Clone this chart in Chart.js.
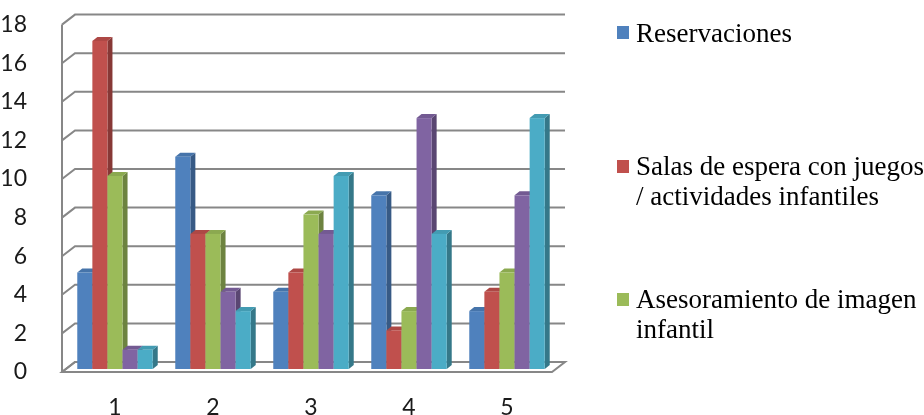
<!DOCTYPE html>
<html>
<head>
<meta charset="utf-8">
<script src="https://cdn.jsdelivr.net/npm/chart.js@4/dist/chart.umd.min.js"></script>
<style>
  html, body { margin: 0; padding: 0; background: #fff; }
  #wrap { position: relative; width: 924px; height: 415px; overflow: hidden; }
  #wrap canvas { position: absolute; left: 0; top: 0; }
  .leg { position: absolute; left: 636px; font-family: "Liberation Serif", "Times New Roman", serif;
         font-size: 27px; line-height: 30px; color: #000; white-space: nowrap; }
  .sq { position: absolute; left: 617px; width: 12px; height: 13px; }
</style>
</head>
<body>
<div id="wrap">
  <canvas id="c" width="924" height="415"></canvas>
  <div class="sq" style="top:26px;background:#4F81BD"></div>
  <div class="leg" style="top:18px">Reservaciones</div>
  <div class="sq" style="top:160px;background:#C0504D"></div>
  <div class="leg" style="top:151px">Salas de espera con juegos<br>/ actividades infantiles</div>
  <div class="sq" style="top:293px;background:#9BBB59"></div>
  <div class="leg" style="top:284px">Asesoramiento de imagen<br>infantil</div>
</div>
<script>
const categories = ['1', '2', '3', '4', '5'];
const reservaciones = [5, 11, 4, 9, 3];
const salasEspera = [17, 7, 5, 2, 4];
const asesoramiento = [10, 7, 8, 3, 5];
const serie4 = [1, 4, 7, 13, 9];
const serie5 = [1, 3, 10, 7, 13];
const yTicks = [0, 2, 4, 6, 8, 10, 12, 14, 16, 18];

const seriesNames = ['Reservaciones', 'Salas de espera con juegos / actividades infantiles', 'Asesoramiento de imagen infantil', 'Serie 4', 'Serie 5'];
const seriesValues = [reservaciones, salasEspera, asesoramiento, serie4, serie5];
const frontColors = ['#4F81BD', '#C0504D', '#9BBB59', '#8064A2', '#4BACC6'];
const topColors   = ['#4674AA', '#AD4845', '#8BA950', '#735A92', '#439BB2'];
const sideColors  = ['#375A85', '#873836', '#6D8340', '#5A4672', '#357889'];

const DEPTH = { dx: 5, dy: 4 };
const FRONT = { dx: -4, dy: 3 };
const BACK = { dx: 9, dy: -7 };

const wallsPlugin = {
  id: 'walls',
  beforeDatasetsDraw(chart) {
    const { ctx, chartArea: a, scales: { y } } = chart;
    const y0 = y.getPixelForValue(0);
    const yTop = y.getPixelForValue(yTicks[yTicks.length - 1]);
    ctx.save();
    ctx.lineWidth = 2;
    ctx.strokeStyle = '#878787';
    ctx.fillStyle = '#ffffff';
    ctx.beginPath();
    ctx.moveTo(a.left + FRONT.dx, y0 + FRONT.dy);
    ctx.lineTo(a.right + FRONT.dx, y0 + FRONT.dy);
    ctx.lineTo(a.right + BACK.dx, y0 + BACK.dy);
    ctx.lineTo(a.left + BACK.dx, y0 + BACK.dy);
    ctx.closePath();
    ctx.fill();
    ctx.stroke();
    ctx.beginPath();
    ctx.moveTo(a.left + FRONT.dx, yTop + FRONT.dy);
    ctx.lineTo(a.left + FRONT.dx, y0 + FRONT.dy);
    ctx.stroke();
    yTicks.forEach(v => {
      const py = y.getPixelForValue(v);
      ctx.beginPath();
      ctx.moveTo(a.left + FRONT.dx, py + FRONT.dy);
      ctx.lineTo(a.left + BACK.dx, py + BACK.dy);
      ctx.lineTo(a.right + BACK.dx, py + BACK.dy);
      ctx.stroke();
    });
    ctx.restore();
  },
  beforeDatasetDraw() { return false; },
  afterDatasetsDraw(chart) {
    const ctx = chart.ctx;
    ctx.save();
    chart.data.datasets.forEach((ds, i) => {
      const meta = chart.getDatasetMeta(i);
      meta.data.forEach(bar => {
        const p = bar.getProps(['x', 'y', 'base', 'width'], true);
        const l = p.x - p.width / 2, r = p.x + p.width / 2;
        const t = p.y, b = p.base;
        ctx.fillStyle = sideColors[i];
        ctx.beginPath();
        ctx.moveTo(r, t); ctx.lineTo(r + DEPTH.dx, t - DEPTH.dy);
        ctx.lineTo(r + DEPTH.dx, b - DEPTH.dy); ctx.lineTo(r, b);
        ctx.closePath(); ctx.fill();
        ctx.fillStyle = topColors[i];
        ctx.beginPath();
        ctx.moveTo(l, t); ctx.lineTo(l + DEPTH.dx, t - DEPTH.dy);
        ctx.lineTo(r + DEPTH.dx, t - DEPTH.dy); ctx.lineTo(r, t);
        ctx.closePath(); ctx.fill();
        ctx.fillStyle = frontColors[i];
        ctx.fillRect(l, t, r - l, b - t);
      });
    });
    ctx.restore();
  }
};

Chart.defaults.font.family = 'Lato';
Chart.defaults.font.size = 23;
Chart.defaults.color = '#1a1a1a';

new Chart(document.getElementById('c'), {
  type: 'bar',
  data: {
    labels: categories,
    datasets: seriesValues.map((vals, i) => ({
      label: seriesNames[i],
      data: vals,
      backgroundColor: frontColors[i],
      categoryPercentage: 0.77,
      barPercentage: 1.0
    }))
  },
  options: {
    responsive: false,
    animation: false,
    events: [],
    layout: { padding: { top: 21.6, right: 368, left: 0, bottom: 0 } },
    plugins: { legend: { display: false }, tooltip: { enabled: false } },
    scales: {
      x: {
        grid: { display: false },
        border: { display: false },
        ticks: { padding: 17 },
        afterFit(s) { s.height = 46; s.paddingLeft = 0; s.paddingRight = 0; s.paddingTop = 0; s.paddingBottom = 0; }
      },
      y: {
        min: 0, max: 18,
        grid: { display: false },
        border: { display: false },
        ticks: { stepSize: 2, padding: 31, labelOffset: 3 },
        afterFit(s) { s.width = 66; s.paddingLeft = 0; s.paddingRight = 0; s.paddingTop = 0; s.paddingBottom = 0; }
      }
    }
  },
  plugins: [wallsPlugin]
});
</script>
</body>
</html>
